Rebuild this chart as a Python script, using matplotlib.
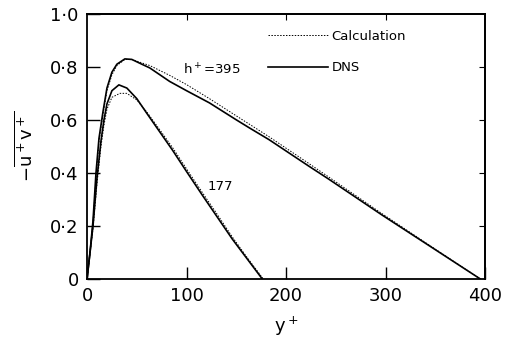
import numpy as np
import matplotlib.pyplot as plt

# h+ = 395, DNS (solid) and calculation (dotted)
yp_395 = [0, 3, 6, 9, 12, 16, 20, 25, 30, 38, 45, 55, 63, 83, 100, 123, 150, 163, 183, 223, 243, 296, 350, 395]
dns_395 = [0, 0.10, 0.22, 0.40, 0.53, 0.63, 0.72, 0.78, 0.81, 0.83, 0.828, 0.81, 0.796, 0.745, 0.71, 0.664, 0.60, 0.57, 0.525, 0.425, 0.376, 0.242, 0.11, 0]
calc_yp_395 = [0, 3, 6, 9, 12, 16, 20, 25, 30, 38, 45, 55, 63, 83, 100, 123, 150, 183, 223, 243, 296, 350, 395]
calc_395 = [0, 0.10, 0.21, 0.38, 0.52, 0.62, 0.71, 0.77, 0.805, 0.828, 0.828, 0.815, 0.805, 0.768, 0.733, 0.68, 0.615, 0.536, 0.435, 0.384, 0.247, 0.112, 0]

# h+ = 177
yp_177 = [0, 3, 6, 10, 14, 17, 20, 25, 32, 40, 50, 60, 73, 86, 100, 116, 130, 146, 160, 176]
dns_177 = [0, 0.10, 0.20, 0.38, 0.52, 0.60, 0.66, 0.71, 0.732, 0.72, 0.68, 0.625, 0.555, 0.485, 0.405, 0.315, 0.238, 0.15, 0.08, 0]
calc_yp_177 = [0, 3, 6, 10, 14, 17, 20, 25, 33, 40, 50, 60, 73, 86, 100, 116, 130, 146, 160, 177]
calc_177 = [0, 0.10, 0.19, 0.36, 0.50, 0.58, 0.64, 0.685, 0.70, 0.70, 0.675, 0.63, 0.563, 0.495, 0.415, 0.325, 0.248, 0.158, 0.085, 0]

yticks = [0, 0.2, 0.4, 0.6, 0.8, 1.0]
ytick_labels = ['0', '0·2', '0·4', '0·6', '0·8', '1·0']
xticks = [0, 100, 200, 300, 400]

fig = plt.figure(figsize=(5.15, 3.46), dpi=100)
ax = fig.add_axes([0.169, 0.194, 0.773, 0.766])

ax.plot(calc_yp_395, calc_395, color='k', lw=0.7, ls=(0, (1.5, 1.5)), label='Calculation')
ax.plot(yp_395, dns_395, color='k', lw=1.2, label='DNS')
ax.plot(calc_yp_177, calc_177, color='k', lw=0.7, ls=(0, (1.5, 1.5)))
ax.plot(yp_177, dns_177, color='k', lw=1.2)

ax.text(96, 0.79, 'h$^+$=395', fontsize=9.5, va='center')
ax.text(121, 0.347, '177', fontsize=9.5, va='center')

ax.set_xlim(0, 400)
ax.set_ylim(0, 1.0)
ax.set_xticks(xticks)
ax.set_xticklabels([str(t) for t in xticks])
ax.set_yticks(yticks)
ax.set_yticklabels(ytick_labels)
ax.tick_params(direction='in', length=9, width=1, labelsize=13, pad=6)
for s in ax.spines.values():
    s.set_linewidth(1.3)

top = ax.secondary_xaxis('top')
top.set_xticks([100, 200, 300])
top.tick_params(direction='in', length=4, labeltop=False)
top.spines['top'].set_linewidth(1.3)
right = ax.secondary_yaxis('right')
right.set_yticks([0.2, 0.4, 0.6, 0.8])
right.tick_params(direction='in', length=4, labelright=False)
right.spines['right'].set_linewidth(1.3)

ax.set_xlabel('y$^+$', fontsize=13, labelpad=7)
ax.set_ylabel(r'$-\overline{\mathrm{u}^+\mathrm{v}^+}$', fontsize=13, labelpad=9)

ax.legend(loc='upper left', bbox_to_anchor=(0.455, 0.94), frameon=False, fontsize=9.5,
          handlelength=4.5, handletextpad=0.3, labelspacing=1.4, borderpad=0, borderaxespad=0)

fig.savefig('out.png', dpi=100)
